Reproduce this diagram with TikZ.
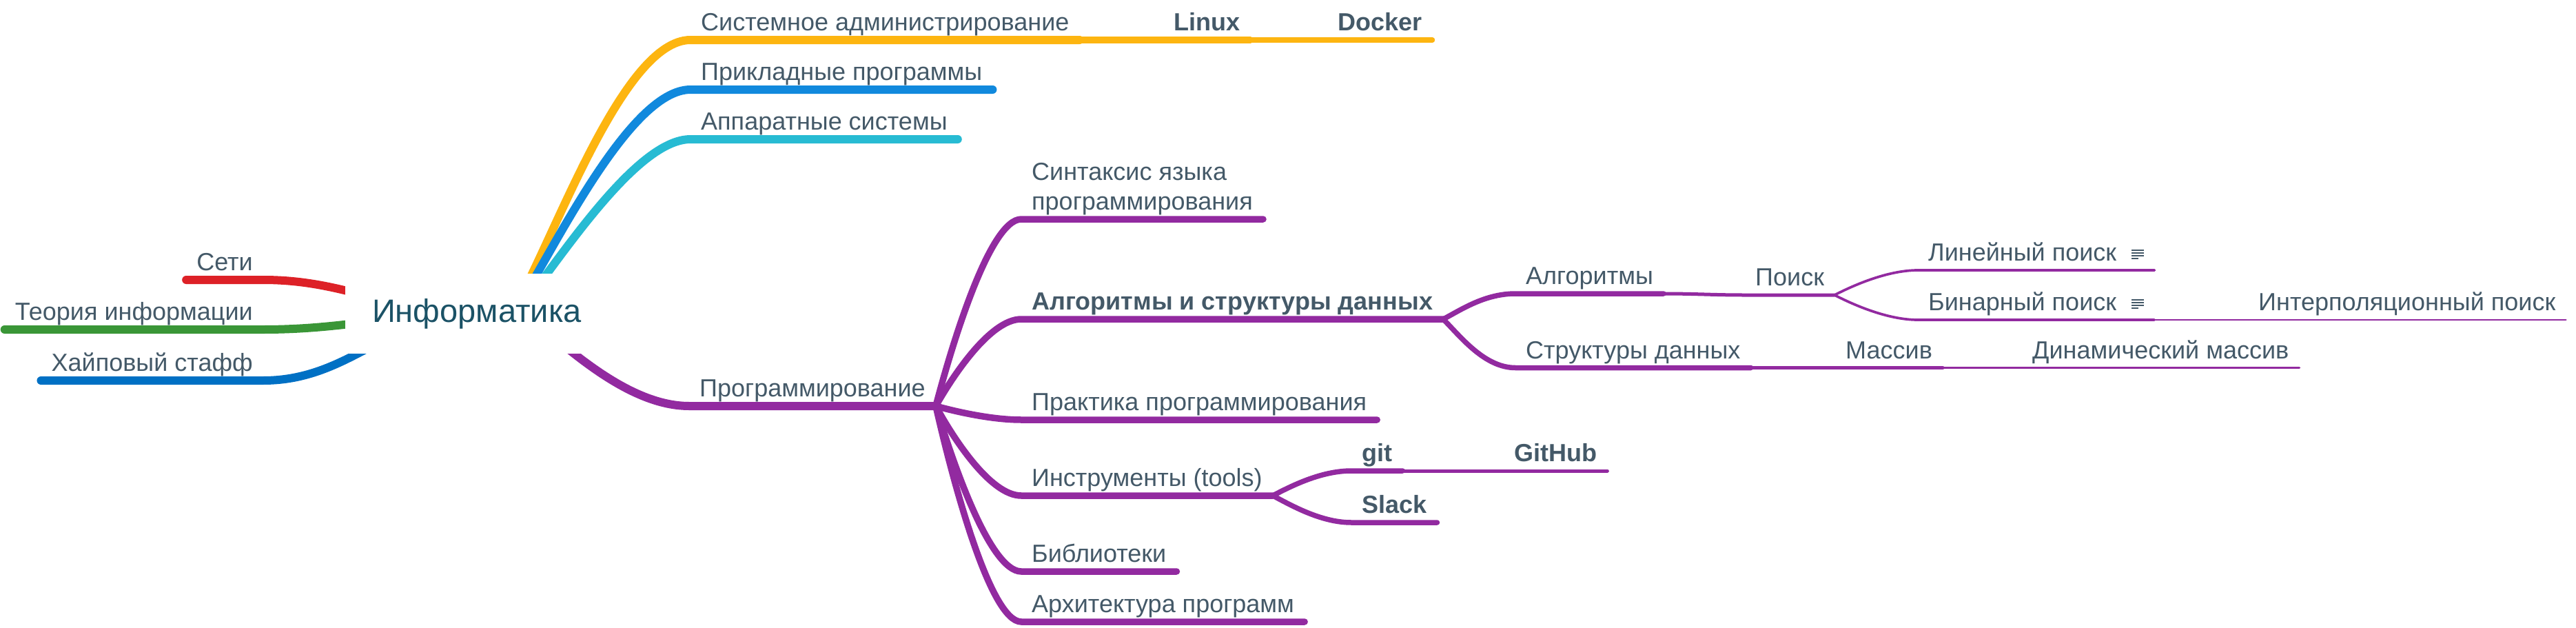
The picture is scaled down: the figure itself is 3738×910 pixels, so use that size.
\documentclass[tikz,border=0pt]{standalone}
\usepackage{fontspec}
\setmainfont{Liberation Sans}
\usetikzlibrary{backgrounds}

\definecolor{inktext}{RGB}{68,89,104}
\definecolor{inkroot}{RGB}{27,82,102}
\definecolor{cyellow}{RGB}{253,181,16}
\definecolor{cblue}{RGB}{17,137,221}
\definecolor{ccyan}{RGB}{39,187,211}
\definecolor{cred}{RGB}{221,33,39}
\definecolor{cgreen}{RGB}{58,150,55}
\definecolor{cdeep}{RGB}{0,112,196}
\definecolor{cpurple}{RGB}{146,42,160}

% small "notes" mark after a topic
\newcommand{\noteicon}{\hspace{22pt}\raisebox{3pt}{\vbox{\hrule width 18pt height 1.8pt\vskip 2.2pt\hrule width 18pt height 1.8pt\vskip 2.2pt\hrule width 18pt height 1.8pt\vskip 2.2pt\hrule width 10pt height 1.8pt}}\hspace{9pt}}

\begin{document}
\begin{tikzpicture}[
x=1pt, y=-1pt,
font=\fontsize{36}{43}\selectfont,
topic/.style={text=inktext, inner xsep=15pt, inner ysep=0pt, execute at begin node=\strut, execute at end node=\strut},
keytopic/.style={topic, font=\fontsize{36}{43}\selectfont\bfseries},
central/.style={text=inkroot, fill=white, font=\fontsize{47}{56}\selectfont, minimum width=382pt, minimum height=116pt},
lone/.style={line width=12pt, line cap=round},
ltwo/.style={line width=9.5pt, line cap=round},
lthree/.style={line width=7.5pt, line cap=round},
lfour/.style={line width=5pt, line cap=round},
lfive/.style={line width=3.7pt, line cap=round},
lsix/.style={line width=2.5pt, line cap=round}
]
\useasboundingbox (0,0) rectangle (3738,910);

\node[central] (root) at (692,455) {Информатика};

% upper branches
\node[topic, anchor=south west] (sysadm) at (1002,58) {Системное администрирование};
\node[keytopic, anchor=south west] (linux) at (1688,58) {Linux};
\node[keytopic, anchor=south west] (docker) at (1926,58) {Docker};
\node[topic, anchor=south west] (apps) at (1002,130) {Прикладные программы};
\node[topic, anchor=south west] (hw) at (1002,202) {Аппаратные системы};

% left branches
\node[topic, anchor=south east] (nets) at (382,406) {Сети};
\node[topic, anchor=south east] (theory) at (382,478) {Теория информации};
\node[topic, anchor=south east] (hype) at (382,552) {Хайповый стафф};

% programming
\node[topic, anchor=south west] (prog) at (1000,589) {Программирование};
\node[topic, anchor=south west, align=left] (syntax) at (1482,318) {Синтаксис языка\\программирования};
\node[keytopic, anchor=south west] (algds) at (1482,463) {Алгоритмы и структуры данных};
\node[topic, anchor=south west] (practice) at (1482,609) {Практика программирования};
\node[topic, anchor=south west] (tools) at (1482,719) {Инструменты (tools)};
\node[topic, anchor=south west] (libs) at (1482,829) {Библиотеки};
\node[topic, anchor=south west] (arch) at (1482,902) {Архитектура программ};

% algorithms and data structures
\node[topic, anchor=south west] (algo) at (2199,426) {Алгоритмы};
\node[topic, anchor=south west] (search) at (2532,428) {Поиск};
\node[topic, anchor=south west] (linear) at (2783,392) {Линейный поиск\noteicon};
\node[topic, anchor=south west] (binary) at (2783,464) {Бинарный поиск\noteicon};
\node[topic, anchor=south west] (interp) at (3262,464) {Интерполяционный поиск};
\node[topic, anchor=south west] (struct) at (2199,533.5) {Структуры данных};
\node[topic, anchor=south west] (array) at (2663,533.5) {Массив};
\node[topic, anchor=south west] (dynarray) at (2934,533.5) {Динамический массив};

% tools
\node[keytopic, anchor=south west] (git) at (1961,683) {git\hspace{46pt}};
\node[keytopic, anchor=south west] (github) at (2182,683) {GitHub};
\node[keytopic, anchor=south west] (slack) at (1961,758) {Slack};

\begin{scope}[on background layer]
\draw[lone, cyellow] ([xshift=50pt]root.center) .. controls +(60,-100) and +(-100,0) .. (sysadm.south west) -- (sysadm.south east);
\draw[ltwo, cyellow] (sysadm.south east) -- (linux.south west) -- (linux.south east);
\draw[lthree, cyellow] (linux.south east) -- (docker.south west) -- (docker.south east);
\draw[lone, cblue] ([xshift=53pt]root.center) .. controls +(55,-85) and +(-90,0) .. (apps.south west) -- (apps.south east);
\draw[lone, ccyan] ([xshift=58pt]root.center) .. controls +(60,-75) and +(-80,0) .. (hw.south west) -- (hw.south east);

\draw[lone, cred] (root.center) to[out=180,in=0] (nets.south east) -- (nets.south west);
\draw[lone, cgreen] (root.center) to[out=180,in=0] (theory.south east) -- (theory.south west);
\draw[lone, cdeep] (root.center) to[out=180,in=0] (hype.south east) -- (hype.south west);

\draw[lone, cpurple] ([xshift=68pt]root.center) .. controls +(40,25) and +(-100,0) .. (prog.south west) -- (prog.south east);
\draw[ltwo, cpurple] (prog.south east) .. controls +(25,-95) and +(-45,0) .. (syntax.south west) -- (syntax.south east);
\draw[ltwo, cpurple] (prog.south east) .. controls +(25,-44) and +(-45,0) .. (algds.south west) -- (algds.south east);
\draw[ltwo, cpurple] (prog.south east) .. controls +(25,7) and +(-45,0) .. (practice.south west) -- (practice.south east);
\draw[ltwo, cpurple] (prog.south east) .. controls +(25,46) and +(-45,0) .. (tools.south west) -- (tools.south east);
\draw[ltwo, cpurple] (prog.south east) .. controls +(25,84) and +(-45,0) .. (libs.south west) -- (libs.south east);
\draw[ltwo, cpurple] (prog.south east) .. controls +(25,110) and +(-45,0) .. (arch.south west) -- (arch.south east);

\draw[lthree, cpurple] (algds.south east) .. controls +(25,-13) and +(-45,0) .. (algo.south west) -- (algo.south east);
\draw[lthree, cpurple] (algds.south east) .. controls +(25,25) and +(-45,0) .. (struct.south west) -- (struct.south east);
\draw[lfour, cpurple] (algo.south east) to[out=0,in=180] (search.south west) -- (search.south east);
\draw[lfive, cpurple] (search.south east) .. controls +(25,-13) and +(-45,0) .. (linear.south west) -- (linear.south east);
\draw[lfive, cpurple] (search.south east) .. controls +(25,13) and +(-45,0) .. (binary.south west) -- (binary.south east);
\draw[lsix, cpurple] (binary.south east) -- (interp.south west) -- (interp.south east);
\draw[lfour, cpurple] (struct.south east) -- (array.south west) -- (array.south east);
\draw[lfive, cpurple] (array.south east) -- (dynarray.south west) -- (dynarray.south east);

\draw[lthree, cpurple] (tools.south east) .. controls +(25,-13) and +(-45,0) .. (git.south west) -- (git.south east);
\draw[lthree, cpurple] (tools.south east) .. controls +(25,13) and +(-45,0) .. (slack.south west) -- (slack.south east);
\draw[lfour, cpurple] (git.south east) -- (github.south west) -- (github.south east);
\end{scope}
\end{tikzpicture}
\end{document}
